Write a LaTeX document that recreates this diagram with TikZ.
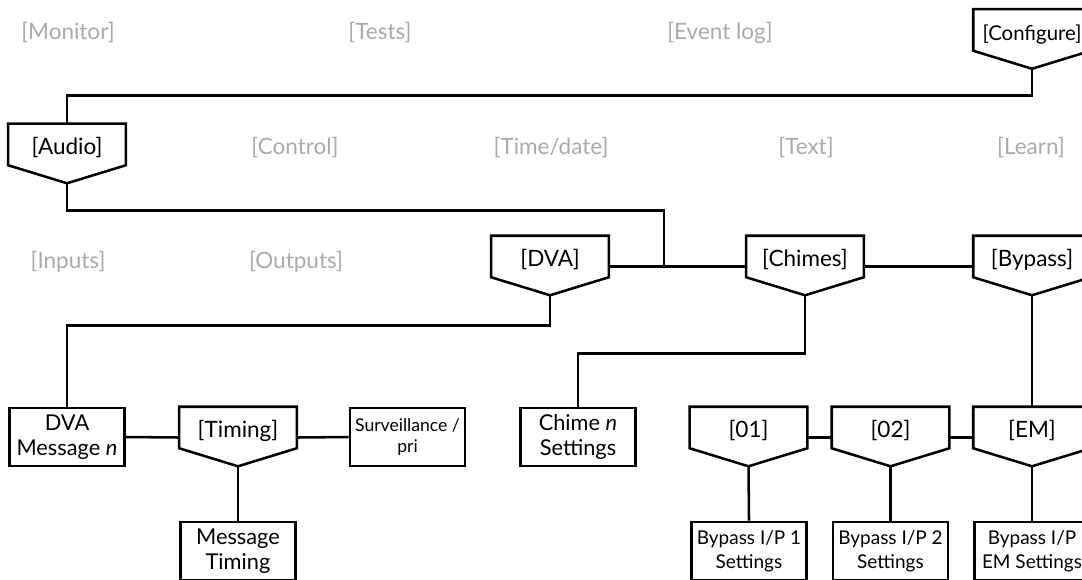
\documentclass[tikz,border=0pt]{standalone}
\usepackage{fontspec}
\setmainfont{Lato}
\usetikzlibrary{calc}
\definecolor{menugray}{RGB}{170,170,170}

\begin{document}
\begin{tikzpicture}[x=0.025cm, y=-0.025cm, line width=1.8pt,
  tab/.style={inner xsep=0pt, inner ysep=0pt, text height=0.74cm, text depth=0.235cm, minimum width=2.875cm, font=\fontsize{16}{18}\selectfont,
    append after command={\pgfextra{\let\tabnode\tikzlastnode
      \draw[line width=1.8pt] (\tabnode.north west) -- (\tabnode.north east) -- (\tabnode.south east)
        -- ([yshift=-0.45cm]\tabnode.south) coordinate (\tabnode-tip) -- (\tabnode.south west) -- cycle;}}},
  leaf/.style={draw, inner sep=0pt, minimum width=2.875cm, minimum height=1.45cm, align=center, font=\fontsize{15.5}{18}\selectfont},
  idle/.style={text=menugray, font=\fontsize{16}{18}\selectfont}]
\useasboundingbox (0,0) rectangle (1082,579);
\clip (0,0) rectangle (1082,579);
%%%%%%%%%%%%%%%%%%%
\node[idle] (monitor) at (68,33) {[Monitor]};
\node[idle] (tests) at (380,33) {[Tests]};
\node[idle] (eventlog) at (720,33) {[Event log]};
\node[idle] (control) at (295,147) {[Control]};
\node[idle] (timedate) at (551,147) {[Time/date]};
\node[idle] (text) at (806,147) {[Text]};
\node[idle] (learn) at (1031,147) {[Learn]};
\node[idle] (inputs) at (68,262) {[Inputs]};
\node[idle] (outputs) at (296,262) {[Outputs]};

%%%%%%%%%%%%%%%%%%%
\node[tab, font=\fontsize{14.5}{18}\selectfont] (configure) at (1032,30) {[Configure]};
\node[tab] (audio) at (67,144.5) {[Audio]};
\node[tab] (dva) at (550,256.5) {[DVA]};
\node[tab] (chimes) at (805,256.5) {[Chimes]};
\node[tab] (bypass) at (1032,256.5) {[Bypass]};
\node[tab] (timing) at (238,427.5) {[Timing]};
\node[tab] (ip1) at (748.5,427.5) {[01]};
\node[tab] (ip2) at (890.5,427.5) {[02]};
\node[tab] (ipem) at (1032,427.5) {[EM]};

%%%%%%%%%%%%%%%%%%%
\node[leaf] (dvamsg) at (67,437) {DVA\\Message \textit{n}};
\node[leaf, font=\fontsize{12.5}{15}\selectfont] (surv) at (407.5,437) {Surveillance /\\pri};
\node[leaf] (msgtiming) at (238,551) {Message\\Timing};
\node[leaf] (chimeset) at (578,437) {Chime \textit{n}\\Settings};
\node[leaf, font=\fontsize{13.5}{17}\selectfont] (ip1set) at (749,551) {Bypass I/P 1\\Settings};
\node[leaf, font=\fontsize{13.5}{17}\selectfont] (ip2set) at (890.5,551) {Bypass I/P 2\\Settings};
\node[leaf, font=\fontsize{13.5}{17}\selectfont] (ipemset) at (1032,551) {Bypass I/P\\EM Settings};

%%%%%%%%%%%%%%%%%%%
\coordinate (join) at ($([yshift=-0.25cm]dva.east)!0.4!([yshift=-0.25cm]chimes.west)$);
\draw (configure-tip) |- ([yshift=0.7cm]audio.north) -- (audio.north);
\draw (audio-tip) -- ++(0,27) -| (join);
\draw ([yshift=-0.25cm]dva.east) -- ([yshift=-0.25cm]chimes.west);
\draw ([yshift=-0.25cm]chimes.east) -- ([yshift=-0.25cm]bypass.west);
\draw (dva-tip) -- ++(0,30) -| (dvamsg.north);
\draw (chimes-tip) -- ++(0,58) -| (chimeset.north);
\draw (bypass-tip) -- (ipem.north);
\draw (dvamsg.east) -- ([yshift=-0.25cm]timing.west);
\draw ([yshift=-0.25cm]timing.east) -- (surv.west);
\draw (timing-tip) -- (msgtiming.north);
\draw ([yshift=-0.25cm]ip1.east) -- ([yshift=-0.25cm]ip2.west);
\draw ([yshift=-0.25cm]ip2.east) -- ([yshift=-0.25cm]ipem.west);
\draw (ip1-tip) -- (ip1set.north);
\draw (ip2-tip) -- (ip2set.north);
\draw (ipem-tip) -- (ipemset.north);
\end{tikzpicture}
\end{document}
